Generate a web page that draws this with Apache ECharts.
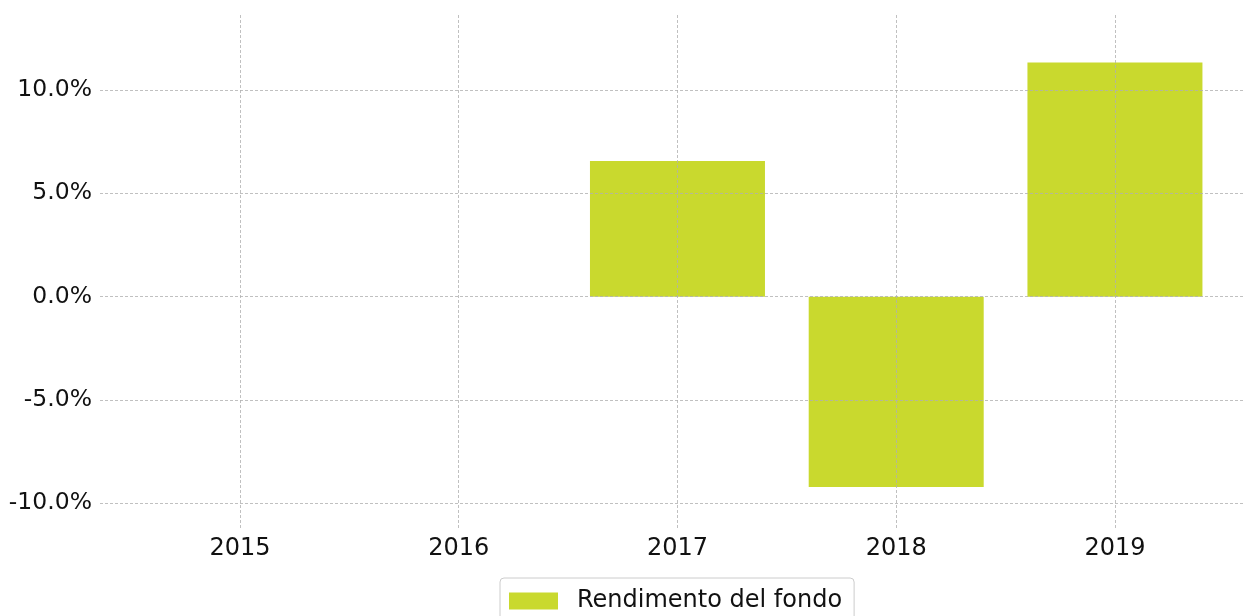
<!DOCTYPE html>
<html>
<head>
<meta charset="utf-8">
<script src="https://cdn.jsdelivr.net/npm/echarts@6/dist/echarts.min.js"></script>
<style>
    html, body { margin: 0; padding: 0; background: #fff; }
    #chart_1 { width: 1244px; height: 616px; }
</style>
</head>
<body>
<div id="chart_1"></div>
<script>
// 数据
var years = ['2015', '2016', '2017', '2018', '2019'];
var rendimento = [null, null, 6.56, -9.21, 11.33];
var yTicks = [-10, -5, 0, 5, 10];
var serieName = 'Rendimento del fondo';

var chart_1 = echarts.init(document.getElementById('chart_1'));

var barData = [], xTicks = [];
for (var i = 0; i < years.length; i++) {
    barData.push([i, rendimento[i]]);
    xTicks.push(i);
}

var gridLine = {
    show: true,
    lineStyle: { color: '#b0b0b0', type: [3, 2], width: 0.8 }
};

var option = {
    animation: false,
    textStyle: { fontFamily: 'DejaVu Sans' },
    grid: { left: 100, top: 15, right: 0, height: 515 },
    legend: {
        data: [serieName],
        left: 500,
        top: 578,
        icon: 'rect',
        itemWidth: 49,
        itemHeight: 17,
        padding: [11, 12, 12, 9],
        borderColor: '#cccccc',
        borderWidth: 1,
        borderRadius: 4,
        textStyle: { fontSize: 24, color: '#111', padding: [0, 0, 0, 14], fontFamily: 'DejaVu Sans' }
    },
    xAxis: {
        type: 'value',
        min: -0.64,
        max: 4.59,
        z: 3,
        axisLine: { show: false },
        axisTick: { show: false, customValues: xTicks },
        axisLabel: {
            fontSize: 24,
            color: '#111',
            margin: 7,
            customValues: xTicks,
            formatter: function (v) { return years[Math.round(v)]; }
        },
        splitLine: gridLine
    },
    yAxis: {
        type: 'value',
        min: -11.29,
        max: 13.63,
        z: 3,
        axisLine: { show: false },
        axisTick: { show: false, customValues: yTicks },
        axisLabel: {
            fontSize: 23.5,
            color: '#111',
            margin: 8,
            padding: [4, 0, 0, 0],
            customValues: yTicks,
            formatter: function (v) { return v.toFixed(1) + '%'; }
        },
        splitLine: gridLine
    },
    series: [{
        name: serieName,
        type: 'bar',
        data: barData,
        barWidth: 175,
        itemStyle: { color: '#c9d92e' }
    }]
};
chart_1.setOption(option);
</script>
</body>
</html>
